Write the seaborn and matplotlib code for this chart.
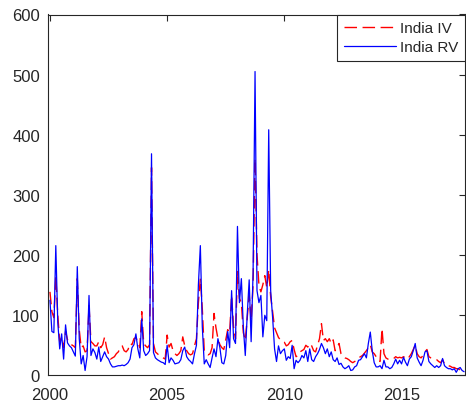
import numpy as np
import pandas as pd
import matplotlib
matplotlib.use("Agg")
import matplotlib.pyplot as plt
import seaborn as sns

# Monthly series, Jan 2000 .. Sep 2017
rv = [
    124, 72, 70, 215, 88, 43, 68, 26, 83, 53, 48, 45,      # 2000
    38, 31, 180, 60, 18, 32, 7, 30, 132, 32, 43, 37,       # 2001
    26, 46, 22, 30, 38, 30, 26, 18, 13, 13, 14, 15,        # 2002
    15, 16, 15, 17, 20, 26, 45, 50, 68, 43, 28, 93,        # 2003
    40, 32, 35, 40, 368, 37, 28, 25, 23, 21, 20, 17,       # 2004
    49, 20, 28, 24, 18, 19, 20, 25, 40, 46, 30, 25,        # 2005
    22, 18, 35, 49, 150, 215, 80, 18, 25, 18, 12, 28,      # 2006
    43, 30, 60, 45, 20, 18, 32, 72, 45, 140, 60, 52,       # 2007
    247, 120, 160, 80, 32, 100, 158, 55, 170, 505, 140, 120,  # 2008
    132, 63, 99, 90, 408, 140, 95, 43, 22, 48, 35, 40,     # 2009
    43, 24, 30, 27, 49, 10, 24, 20, 24, 32, 28, 40,        # 2010
    22, 43, 25, 22, 30, 35, 42, 52, 45, 35, 43, 30,        # 2011
    38, 25, 22, 28, 17, 19, 13, 10, 12, 15, 7, 8,          # 2012
    13, 15, 24, 25, 30, 35, 28, 52, 71, 40, 20, 13,        # 2013
    13, 15, 10, 24, 13, 13, 10, 12, 18, 26, 18, 24,        # 2014
    18, 29, 21, 15, 26, 30, 40, 52, 28, 21, 15, 24,        # 2015
    38, 40, 22, 18, 15, 12, 15, 12, 15, 27, 15, 12,        # 2016
    10, 10, 8, 10, 4, 10, 12, 7, 5,                        # 2017
]
iv = [
    138, 105, 95, 165, 100, 55, 62, 45, 72, 58, 55, 50,    # 2000
    48, 45, 160, 75, 45, 48, 38, 40, 115, 55, 52, 48,      # 2001
    48, 55, 45, 50, 63, 45, 35, 26, 28, 30, 35, 38,        # 2002
    45, 48, 40, 38, 42, 52, 50, 60, 62, 55, 45, 105,       # 2003
    52, 48, 45, 50, 345, 52, 38, 35, 32, 30, 28, 26,       # 2004
    66, 46, 52, 40, 35, 32, 35, 40, 63, 48, 40, 35,        # 2005
    33, 35, 48, 60, 120, 160, 110, 40, 35, 33, 35, 45,     # 2006
    102, 78, 60, 50, 45, 42, 58, 75, 70, 132, 80, 60,      # 2007
    172, 127, 120, 70, 57, 95, 132, 90, 150, 360, 200, 149,  # 2008
    138, 150, 165, 145, 175, 130, 105, 78, 70, 62, 58, 55, # 2009
    54, 48, 50, 55, 57, 42, 30, 32, 38, 40, 42, 49,        # 2010
    46, 52, 48, 40, 38, 49, 60, 85, 57, 60, 55, 60,        # 2011
    52, 58, 40, 45, 52, 35, 30, 28, 27, 25, 22, 20,        # 2012
    22, 24, 28, 30, 32, 36, 40, 45, 50, 38, 35, 30,        # 2013
    25, 22, 77, 35, 28, 26, 25, 26, 27, 30, 28, 29,        # 2014
    28, 30, 28, 26, 30, 35, 42, 49, 35, 30, 28, 32,        # 2015
    38, 42, 30, 28, 27, 26, 25, 22, 20, 25, 18, 16,        # 2016
    15, 14, 12, 12, 10, 10, 8, 8, 8,                       # 2017
]
start_year = 2000
x_ticks = [2000, 2005, 2010, 2015]
y_ticks = [0, 100, 200, 300, 400, 500, 600]

t = start_year + np.arange(len(rv)) / 12.0
df = pd.DataFrame({"Date": t, "India IV": iv, "India RV": rv})

sns.set_style("white")
plt.rcParams["font.family"] = ["Liberation Sans", "DejaVu Sans"]

fig = plt.figure(figsize=(4.66, 4.02), dpi=100)
ax = fig.add_axes([48.3 / 466, (402 - 375.7) / 402, (465.3 - 48.3) / 466, (375.7 - 15.5) / 402])

sns.lineplot(data=df, x="Date", y="India IV", color="red", lw=1.0, ax=ax, label="India IV")
ax.lines[-1].set_dashes((9, 4))
sns.lineplot(data=df, x="Date", y="India RV", color="blue", lw=0.9, ax=ax, label="India RV")

ax.set_xlim(1999.93, 2017.72)
ax.set_ylim(0, 600)
ax.set_xticks(x_ticks)
ax.set_yticks(y_ticks)
ax.set_xlabel("")
ax.set_ylabel("")
ax.tick_params(direction="in", length=4, width=0.8, top=True, right=True,
               labelsize=12, colors="0.15")
ax.tick_params(axis="x", pad=9)
ax.tick_params(axis="y", pad=6)
for s in ax.spines.values():
    s.set_color("0.15")
    s.set_linewidth(0.8)

leg = ax.legend(loc="upper right", bbox_to_anchor=(1, 1), borderaxespad=0,
                fancybox=False, edgecolor="0.15", framealpha=1, fontsize=11,
                handlelength=3.4, handletextpad=0.3, borderpad=0.45,
                labelspacing=0.3)
leg.get_frame().set_linewidth(0.8)

fig.savefig("out.png", dpi=100)
